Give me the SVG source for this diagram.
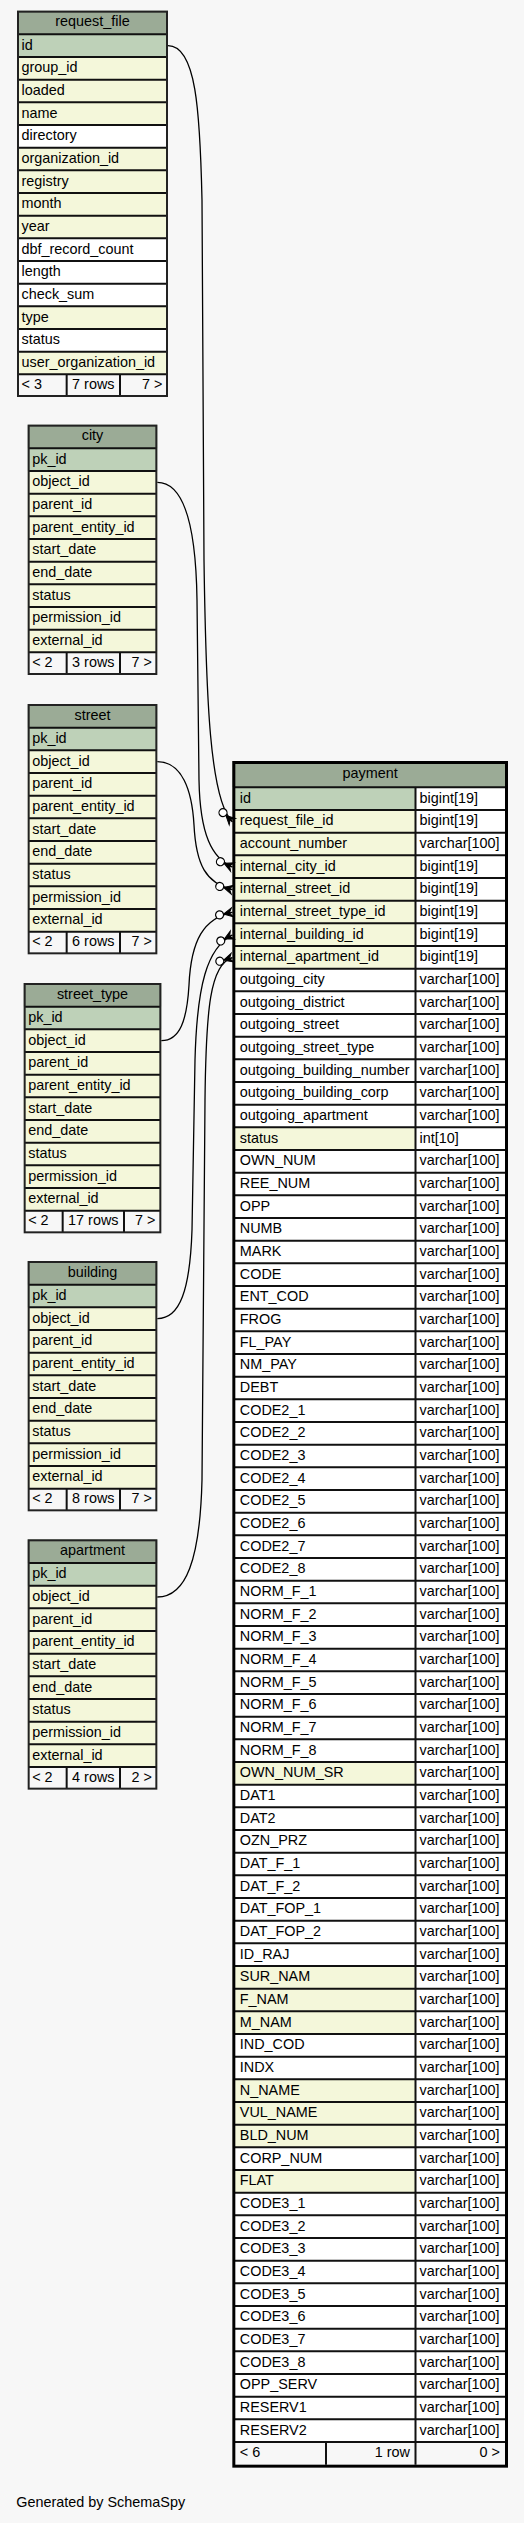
<svg xmlns="http://www.w3.org/2000/svg" width="524" height="2523" viewBox="0 0 524 2523">
<style>
.w{fill:#ffffff}
.hd{fill:#9bab96}
.pk{fill:#bed1b8}
.fk{fill:#f4f7da}
.ft{fill:#f7f7f7}
.grid{fill:none;stroke:#111;stroke-width:2}
.frame{fill:none;stroke:#222;stroke-width:2}
.frame3{fill:none;stroke:#000;stroke-width:3}
text{font-family:"Liberation Sans",Arial,Helvetica,sans-serif;font-size:14.4px;fill:#000}
.c{text-anchor:middle}
.e{text-anchor:end}
.edge{fill:none;stroke:#000;stroke-width:1.3;marker-end:url(#crowodot)}
</style>
<defs>
<marker id="crowodot" markerUnits="userSpaceOnUse" orient="auto" refX="0" refY="0" markerWidth="1" markerHeight="1" overflow="visible">
<path d="M-9,0L0,-4.5L-3,0L0,4.5Z M-9,0H0" fill="#000" stroke="#000" stroke-width="1"/>
<circle cx="-13" cy="0" r="4" fill="#ffffff" stroke="#000" stroke-width="1.2"/>
</marker>
</defs>
<rect x="0" y="0" width="524" height="2523" fill="#f7f7f7"/>

<g id="request_file">
<rect class="w" x="17" y="10.67" width="151" height="386.33"/>
<rect class="hd" x="17" y="10.67" width="151" height="23.67"/>
<rect class="pk" x="17" y="34.33" width="151" height="22.67"/>
<rect class="fk" x="17" y="57" width="151" height="68"/>
<rect class="fk" x="17" y="147.67" width="151" height="90.67"/>
<rect class="fk" x="17" y="306.33" width="151" height="22.67"/>
<rect class="fk" x="17" y="351.67" width="151" height="22.67"/>
<rect class="ft" x="17" y="374.33" width="151" height="22.67"/>
<path class="grid" d="M18,34.33H167m-149,22.667H167m-149,22.667H167m-149,22.667H167m-149,22.667H167m-149,22.667H167m-149,22.667H167m-149,22.667H167m-149,22.667H167m-149,22.667H167m-149,22.667H167m-149,22.667H167m-149,22.667H167m-149,22.667H167m-149,22.667H167m-149,22.667H167 M66.67,374.33V396 M120,374.33V396"/>
<rect class="frame" x="18" y="11.67" width="149" height="384.33"/>
<text class="c" x="92.5" y="26.2">request_file</text>
<text x="21.5" y="49.6">id</text>
<text x="21.5" y="72.3">group_id</text>
<text x="21.5" y="95">loaded</text>
<text x="21.5" y="117.6">name</text>
<text x="21.5" y="140.3">directory</text>
<text x="21.5" y="163">organization_id</text>
<text x="21.5" y="185.6">registry</text>
<text x="21.5" y="208.3">month</text>
<text x="21.5" y="231">year</text>
<text x="21.5" y="253.6">dbf_record_count</text>
<text x="21.5" y="276.3">length</text>
<text x="21.5" y="299">check_sum</text>
<text x="21.5" y="321.6">type</text>
<text x="21.5" y="344.3">status</text>
<text x="21.5" y="367">user_organization_id</text>
<text x="21.5" y="388.8">&lt; 3</text>
<text class="e" x="114.5" y="388.8">7 rows</text>
<text class="e" x="162.3" y="388.8">7 &gt;</text>
</g>

<g id="city">
<rect class="w" x="27.67" y="424.67" width="129.67" height="250.33"/>
<rect class="hd" x="27.67" y="424.67" width="129.67" height="23.67"/>
<rect class="pk" x="27.67" y="448.33" width="129.67" height="22.67"/>
<rect class="fk" x="27.67" y="471" width="129.67" height="181.33"/>
<rect class="ft" x="27.67" y="652.33" width="129.67" height="22.67"/>
<path class="grid" d="M28.67,448.33H156.33m-127.67,22.667H156.33m-127.67,22.667H156.33m-127.67,22.667H156.33m-127.67,22.667H156.33m-127.67,22.667H156.33m-127.67,22.667H156.33m-127.67,22.667H156.33m-127.67,22.667H156.33m-127.67,22.667H156.33 M66.67,652.33V674 M120,652.33V674"/>
<rect class="frame" x="28.67" y="425.67" width="127.67" height="248.33"/>
<text class="c" x="92.5" y="440.2">city</text>
<text x="32.2" y="463.6">pk_id</text>
<text x="32.2" y="486.3">object_id</text>
<text x="32.2" y="509">parent_id</text>
<text x="32.2" y="531.6">parent_entity_id</text>
<text x="32.2" y="554.3">start_date</text>
<text x="32.2" y="577">end_date</text>
<text x="32.2" y="599.6">status</text>
<text x="32.2" y="622.3">permission_id</text>
<text x="32.2" y="645">external_id</text>
<text x="32.2" y="666.8">&lt; 2</text>
<text class="e" x="114.5" y="666.8">3 rows</text>
<text class="e" x="151.8" y="666.8">7 &gt;</text>
</g>

<g id="street">
<rect class="w" x="27.67" y="704" width="129.67" height="250.33"/>
<rect class="hd" x="27.67" y="704" width="129.67" height="23.67"/>
<rect class="pk" x="27.67" y="727.67" width="129.67" height="22.67"/>
<rect class="fk" x="27.67" y="750.33" width="129.67" height="181.33"/>
<rect class="ft" x="27.67" y="931.67" width="129.67" height="22.67"/>
<path class="grid" d="M28.67,727.67H156.33m-127.67,22.667H156.33m-127.67,22.667H156.33m-127.67,22.667H156.33m-127.67,22.667H156.33m-127.67,22.667H156.33m-127.67,22.667H156.33m-127.67,22.667H156.33m-127.67,22.667H156.33m-127.67,22.667H156.33 M66.67,931.67V953.3 M120,931.67V953.3"/>
<rect class="frame" x="28.67" y="705" width="127.67" height="248.33"/>
<text class="c" x="92.5" y="719.5">street</text>
<text x="32.2" y="743">pk_id</text>
<text x="32.2" y="765.6">object_id</text>
<text x="32.2" y="788.3">parent_id</text>
<text x="32.2" y="811">parent_entity_id</text>
<text x="32.2" y="833.6">start_date</text>
<text x="32.2" y="856.3">end_date</text>
<text x="32.2" y="879">status</text>
<text x="32.2" y="901.6">permission_id</text>
<text x="32.2" y="924.3">external_id</text>
<text x="32.2" y="946.2">&lt; 2</text>
<text class="e" x="114.5" y="946.2">6 rows</text>
<text class="e" x="151.8" y="946.2">7 &gt;</text>
</g>

<g id="street_type">
<rect class="w" x="23.67" y="983" width="137.67" height="250.33"/>
<rect class="hd" x="23.67" y="983" width="137.67" height="23.67"/>
<rect class="pk" x="23.67" y="1006.67" width="137.67" height="22.67"/>
<rect class="fk" x="23.67" y="1029.33" width="137.67" height="181.33"/>
<rect class="ft" x="23.67" y="1210.67" width="137.67" height="22.67"/>
<path class="grid" d="M24.67,1006.67H160.33m-135.67,22.667H160.33m-135.67,22.667H160.33m-135.67,22.667H160.33m-135.67,22.667H160.33m-135.67,22.667H160.33m-135.67,22.667H160.33m-135.67,22.667H160.33m-135.67,22.667H160.33m-135.67,22.667H160.33 M62.67,1210.67V1232.3 M124,1210.67V1232.3"/>
<rect class="frame" x="24.67" y="984" width="135.67" height="248.33"/>
<text class="c" x="92.5" y="998.5">street_type</text>
<text x="28.2" y="1022">pk_id</text>
<text x="28.2" y="1044.6">object_id</text>
<text x="28.2" y="1067.3">parent_id</text>
<text x="28.2" y="1090">parent_entity_id</text>
<text x="28.2" y="1112.6">start_date</text>
<text x="28.2" y="1135.3">end_date</text>
<text x="28.2" y="1158">status</text>
<text x="28.2" y="1180.6">permission_id</text>
<text x="28.2" y="1203.3">external_id</text>
<text x="28.2" y="1225.2">&lt; 2</text>
<text class="e" x="118.5" y="1225.2">17 rows</text>
<text class="e" x="155.5" y="1225.2">7 &gt;</text>
</g>

<g id="building">
<rect class="w" x="27.67" y="1261" width="129.67" height="250.33"/>
<rect class="hd" x="27.67" y="1261" width="129.67" height="23.67"/>
<rect class="pk" x="27.67" y="1284.67" width="129.67" height="22.67"/>
<rect class="fk" x="27.67" y="1307.33" width="129.67" height="181.33"/>
<rect class="ft" x="27.67" y="1488.67" width="129.67" height="22.67"/>
<path class="grid" d="M28.67,1284.67H156.33m-127.67,22.667H156.33m-127.67,22.667H156.33m-127.67,22.667H156.33m-127.67,22.667H156.33m-127.67,22.667H156.33m-127.67,22.667H156.33m-127.67,22.667H156.33m-127.67,22.667H156.33m-127.67,22.667H156.33 M66.67,1488.67V1510.3 M120,1488.67V1510.3"/>
<rect class="frame" x="28.67" y="1262" width="127.67" height="248.33"/>
<text class="c" x="92.5" y="1276.5">building</text>
<text x="32.2" y="1300">pk_id</text>
<text x="32.2" y="1322.6">object_id</text>
<text x="32.2" y="1345.3">parent_id</text>
<text x="32.2" y="1368">parent_entity_id</text>
<text x="32.2" y="1390.6">start_date</text>
<text x="32.2" y="1413.3">end_date</text>
<text x="32.2" y="1436">status</text>
<text x="32.2" y="1458.6">permission_id</text>
<text x="32.2" y="1481.3">external_id</text>
<text x="32.2" y="1503.2">&lt; 2</text>
<text class="e" x="114.5" y="1503.2">8 rows</text>
<text class="e" x="151.8" y="1503.2">7 &gt;</text>
</g>

<g id="apartment">
<rect class="w" x="27.67" y="1539.33" width="129.67" height="250.33"/>
<rect class="hd" x="27.67" y="1539.33" width="129.67" height="23.67"/>
<rect class="pk" x="27.67" y="1563" width="129.67" height="22.67"/>
<rect class="fk" x="27.67" y="1585.67" width="129.67" height="181.33"/>
<rect class="ft" x="27.67" y="1767" width="129.67" height="22.67"/>
<path class="grid" d="M28.67,1563H156.33m-127.67,22.667H156.33m-127.67,22.667H156.33m-127.67,22.667H156.33m-127.67,22.667H156.33m-127.67,22.667H156.33m-127.67,22.667H156.33m-127.67,22.667H156.33m-127.67,22.667H156.33m-127.67,22.667H156.33 M66.67,1767V1788.7 M120,1767V1788.7"/>
<rect class="frame" x="28.67" y="1540.33" width="127.67" height="248.33"/>
<text class="c" x="92.5" y="1554.8">apartment</text>
<text x="32.2" y="1578.3">pk_id</text>
<text x="32.2" y="1601">object_id</text>
<text x="32.2" y="1623.6">parent_id</text>
<text x="32.2" y="1646.3">parent_entity_id</text>
<text x="32.2" y="1669">start_date</text>
<text x="32.2" y="1691.6">end_date</text>
<text x="32.2" y="1714.3">status</text>
<text x="32.2" y="1737">permission_id</text>
<text x="32.2" y="1759.6">external_id</text>
<text x="32.2" y="1781.5">&lt; 2</text>
<text class="e" x="114.5" y="1781.5">4 rows</text>
<text class="e" x="151.8" y="1781.5">2 &gt;</text>
</g>

<g id="payment">
<rect class="w" x="232.33" y="761" width="275.67" height="1706.67"/>
<rect class="hd" x="232.33" y="761" width="275.67" height="26.33"/>
<text class="c" x="370.2" y="778.3">payment</text>
<g transform="translate(0,787.33)">
<rect class="pk" x="232.33" y="0" width="183.17" height="22.67"/>
<rect class="fk" x="232.33" y="22.67" width="183.17" height="158.67"/>
<rect class="fk" x="232.33" y="340" width="183.17" height="22.67"/>
<rect class="fk" x="232.33" y="974.67" width="183.17" height="22.67"/>
<rect class="fk" x="232.33" y="1178.67" width="183.17" height="68"/>
<rect class="fk" x="232.33" y="1292" width="183.17" height="68"/>
<rect class="fk" x="232.33" y="1382.67" width="183.17" height="22.67"/>
<rect class="ft" x="232.33" y="1654.67" width="275.67" height="22.67"/>
<path class="grid" d="M234.33,0H506m-271.67,22.667H506m-271.67,22.667H506m-271.67,22.667H506m-271.67,22.667H506m-271.67,22.667H506m-271.67,22.667H506m-271.67,22.667H506m-271.67,22.667H506m-271.67,22.667H506m-271.67,22.667H506m-271.67,22.667H506m-271.67,22.667H506m-271.67,22.667H506m-271.67,22.667H506m-271.67,22.667H506m-271.67,22.667H506m-271.67,22.667H506m-271.67,22.667H506m-271.67,22.667H506m-271.67,22.667H506m-271.67,22.667H506m-271.67,22.667H506m-271.67,22.667H506m-271.67,22.667H506m-271.67,22.667H506m-271.67,22.667H506m-271.67,22.667H506m-271.67,22.667H506m-271.67,22.667H506m-271.67,22.667H506m-271.67,22.667H506m-271.67,22.667H506m-271.67,22.667H506m-271.67,22.667H506m-271.67,22.667H506m-271.67,22.667H506m-271.67,22.667H506m-271.67,22.667H506m-271.67,22.667H506m-271.67,22.667H506m-271.67,22.667H506m-271.67,22.667H506m-271.67,22.667H506m-271.67,22.667H506m-271.67,22.667H506m-271.67,22.667H506m-271.67,22.667H506m-271.67,22.667H506m-271.67,22.667H506m-271.67,22.667H506m-271.67,22.667H506m-271.67,22.667H506m-271.67,22.667H506m-271.67,22.667H506m-271.67,22.667H506m-271.67,22.667H506m-271.67,22.667H506m-271.67,22.667H506m-271.67,22.667H506m-271.67,22.667H506m-271.67,22.667H506m-271.67,22.667H506m-271.67,22.667H506m-271.67,22.667H506m-271.67,22.667H506m-271.67,22.667H506m-271.67,22.667H506m-271.67,22.667H506m-271.67,22.667H506m-271.67,22.667H506m-271.67,22.667H506m-271.67,22.667H506m-271.67,22.667H506 M415.5,0V1677.33 M326,1654.67V1677.33"/>
<text y="15.5"><tspan x="239.8">id</tspan><tspan x="419.5">bigint[19]</tspan></text>
<text y="38.17"><tspan x="239.8">request_file_id</tspan><tspan x="419.5">bigint[19]</tspan></text>
<text y="60.83"><tspan x="239.8">account_number</tspan><tspan x="419.5">varchar[100]</tspan></text>
<text y="83.5"><tspan x="239.8">internal_city_id</tspan><tspan x="419.5">bigint[19]</tspan></text>
<text y="106.17"><tspan x="239.8">internal_street_id</tspan><tspan x="419.5">bigint[19]</tspan></text>
<text y="128.83"><tspan x="239.8">internal_street_type_id</tspan><tspan x="419.5">bigint[19]</tspan></text>
<text y="151.5"><tspan x="239.8">internal_building_id</tspan><tspan x="419.5">bigint[19]</tspan></text>
<text y="174.17"><tspan x="239.8">internal_apartment_id</tspan><tspan x="419.5">bigint[19]</tspan></text>
<text y="196.83"><tspan x="239.8">outgoing_city</tspan><tspan x="419.5">varchar[100]</tspan></text>
<text y="219.5"><tspan x="239.8">outgoing_district</tspan><tspan x="419.5">varchar[100]</tspan></text>
<text y="242.17"><tspan x="239.8">outgoing_street</tspan><tspan x="419.5">varchar[100]</tspan></text>
<text y="264.83"><tspan x="239.8">outgoing_street_type</tspan><tspan x="419.5">varchar[100]</tspan></text>
<text y="287.5"><tspan x="239.8">outgoing_building_number</tspan><tspan x="419.5">varchar[100]</tspan></text>
<text y="310.17"><tspan x="239.8">outgoing_building_corp</tspan><tspan x="419.5">varchar[100]</tspan></text>
<text y="332.83"><tspan x="239.8">outgoing_apartment</tspan><tspan x="419.5">varchar[100]</tspan></text>
<text y="355.5"><tspan x="239.8">status</tspan><tspan x="419.5">int[10]</tspan></text>
<text y="378.17"><tspan x="239.8">OWN_NUM</tspan><tspan x="419.5">varchar[100]</tspan></text>
<text y="400.83"><tspan x="239.8">REE_NUM</tspan><tspan x="419.5">varchar[100]</tspan></text>
<text y="423.5"><tspan x="239.8">OPP</tspan><tspan x="419.5">varchar[100]</tspan></text>
<text y="446.17"><tspan x="239.8">NUMB</tspan><tspan x="419.5">varchar[100]</tspan></text>
<text y="468.83"><tspan x="239.8">MARK</tspan><tspan x="419.5">varchar[100]</tspan></text>
<text y="491.5"><tspan x="239.8">CODE</tspan><tspan x="419.5">varchar[100]</tspan></text>
<text y="514.17"><tspan x="239.8">ENT_COD</tspan><tspan x="419.5">varchar[100]</tspan></text>
<text y="536.83"><tspan x="239.8">FROG</tspan><tspan x="419.5">varchar[100]</tspan></text>
<text y="559.5"><tspan x="239.8">FL_PAY</tspan><tspan x="419.5">varchar[100]</tspan></text>
<text y="582.17"><tspan x="239.8">NM_PAY</tspan><tspan x="419.5">varchar[100]</tspan></text>
<text y="604.83"><tspan x="239.8">DEBT</tspan><tspan x="419.5">varchar[100]</tspan></text>
<text y="627.5"><tspan x="239.8">CODE2_1</tspan><tspan x="419.5">varchar[100]</tspan></text>
<text y="650.17"><tspan x="239.8">CODE2_2</tspan><tspan x="419.5">varchar[100]</tspan></text>
<text y="672.83"><tspan x="239.8">CODE2_3</tspan><tspan x="419.5">varchar[100]</tspan></text>
<text y="695.5"><tspan x="239.8">CODE2_4</tspan><tspan x="419.5">varchar[100]</tspan></text>
<text y="718.17"><tspan x="239.8">CODE2_5</tspan><tspan x="419.5">varchar[100]</tspan></text>
<text y="740.83"><tspan x="239.8">CODE2_6</tspan><tspan x="419.5">varchar[100]</tspan></text>
<text y="763.5"><tspan x="239.8">CODE2_7</tspan><tspan x="419.5">varchar[100]</tspan></text>
<text y="786.17"><tspan x="239.8">CODE2_8</tspan><tspan x="419.5">varchar[100]</tspan></text>
<text y="808.83"><tspan x="239.8">NORM_F_1</tspan><tspan x="419.5">varchar[100]</tspan></text>
<text y="831.5"><tspan x="239.8">NORM_F_2</tspan><tspan x="419.5">varchar[100]</tspan></text>
<text y="854.17"><tspan x="239.8">NORM_F_3</tspan><tspan x="419.5">varchar[100]</tspan></text>
<text y="876.83"><tspan x="239.8">NORM_F_4</tspan><tspan x="419.5">varchar[100]</tspan></text>
<text y="899.5"><tspan x="239.8">NORM_F_5</tspan><tspan x="419.5">varchar[100]</tspan></text>
<text y="922.17"><tspan x="239.8">NORM_F_6</tspan><tspan x="419.5">varchar[100]</tspan></text>
<text y="944.83"><tspan x="239.8">NORM_F_7</tspan><tspan x="419.5">varchar[100]</tspan></text>
<text y="967.5"><tspan x="239.8">NORM_F_8</tspan><tspan x="419.5">varchar[100]</tspan></text>
<text y="990.17"><tspan x="239.8">OWN_NUM_SR</tspan><tspan x="419.5">varchar[100]</tspan></text>
<text y="1012.83"><tspan x="239.8">DAT1</tspan><tspan x="419.5">varchar[100]</tspan></text>
<text y="1035.5"><tspan x="239.8">DAT2</tspan><tspan x="419.5">varchar[100]</tspan></text>
<text y="1058.17"><tspan x="239.8">OZN_PRZ</tspan><tspan x="419.5">varchar[100]</tspan></text>
<text y="1080.83"><tspan x="239.8">DAT_F_1</tspan><tspan x="419.5">varchar[100]</tspan></text>
<text y="1103.5"><tspan x="239.8">DAT_F_2</tspan><tspan x="419.5">varchar[100]</tspan></text>
<text y="1126.17"><tspan x="239.8">DAT_FOP_1</tspan><tspan x="419.5">varchar[100]</tspan></text>
<text y="1148.83"><tspan x="239.8">DAT_FOP_2</tspan><tspan x="419.5">varchar[100]</tspan></text>
<text y="1171.5"><tspan x="239.8">ID_RAJ</tspan><tspan x="419.5">varchar[100]</tspan></text>
<text y="1194.17"><tspan x="239.8">SUR_NAM</tspan><tspan x="419.5">varchar[100]</tspan></text>
<text y="1216.83"><tspan x="239.8">F_NAM</tspan><tspan x="419.5">varchar[100]</tspan></text>
<text y="1239.5"><tspan x="239.8">M_NAM</tspan><tspan x="419.5">varchar[100]</tspan></text>
<text y="1262.17"><tspan x="239.8">IND_COD</tspan><tspan x="419.5">varchar[100]</tspan></text>
<text y="1284.83"><tspan x="239.8">INDX</tspan><tspan x="419.5">varchar[100]</tspan></text>
<text y="1307.5"><tspan x="239.8">N_NAME</tspan><tspan x="419.5">varchar[100]</tspan></text>
<text y="1330.17"><tspan x="239.8">VUL_NAME</tspan><tspan x="419.5">varchar[100]</tspan></text>
<text y="1352.83"><tspan x="239.8">BLD_NUM</tspan><tspan x="419.5">varchar[100]</tspan></text>
<text y="1375.5"><tspan x="239.8">CORP_NUM</tspan><tspan x="419.5">varchar[100]</tspan></text>
<text y="1398.17"><tspan x="239.8">FLAT</tspan><tspan x="419.5">varchar[100]</tspan></text>
<text y="1420.83"><tspan x="239.8">CODE3_1</tspan><tspan x="419.5">varchar[100]</tspan></text>
<text y="1443.5"><tspan x="239.8">CODE3_2</tspan><tspan x="419.5">varchar[100]</tspan></text>
<text y="1466.17"><tspan x="239.8">CODE3_3</tspan><tspan x="419.5">varchar[100]</tspan></text>
<text y="1488.83"><tspan x="239.8">CODE3_4</tspan><tspan x="419.5">varchar[100]</tspan></text>
<text y="1511.5"><tspan x="239.8">CODE3_5</tspan><tspan x="419.5">varchar[100]</tspan></text>
<text y="1534.17"><tspan x="239.8">CODE3_6</tspan><tspan x="419.5">varchar[100]</tspan></text>
<text y="1556.83"><tspan x="239.8">CODE3_7</tspan><tspan x="419.5">varchar[100]</tspan></text>
<text y="1579.5"><tspan x="239.8">CODE3_8</tspan><tspan x="419.5">varchar[100]</tspan></text>
<text y="1602.17"><tspan x="239.8">OPP_SERV</tspan><tspan x="419.5">varchar[100]</tspan></text>
<text y="1624.83"><tspan x="239.8">RESERV1</tspan><tspan x="419.5">varchar[100]</tspan></text>
<text y="1647.5"><tspan x="239.8">RESERV2</tspan><tspan x="419.5">varchar[100]</tspan></text>
<text x="239.8" y="1669.8">&lt; 6</text>
<text class="e" x="410" y="1669.8">1 row</text>
<text class="e" x="500" y="1669.8">0 &gt;</text>
</g>
<rect class="frame3" x="233.83" y="762.5" width="272.67" height="1703.67"/>
</g>

<g id="connectors">
<path class="edge" d="M168,45.67 C196,45.67 200,110 202,200 L204,560 C206,700 210,800 232.33,821.67"/>
<path class="edge" d="M157.33,482.33 C185,482.33 196,530 197,600 L199,780 C200,835 212,858 232.33,867"/>
<path class="edge" d="M157.33,761.67 C182,761.67 192,790 194,825 C196,865 206,883 232.33,889.67"/>
<path class="edge" d="M161.33,1040.67 C180,1040.67 187,1020 189,985 C191,940 204,918 232.33,912.33"/>
<path class="edge" d="M157.33,1318.67 C180,1318.67 190,1290 192,1230 L195,1060 C197,985 207,948 232.33,935"/>
<path class="edge" d="M157.33,1597 C186,1597 200,1560 202,1480 L205,1100 C206,1010 210,964 232.33,957.67"/>
</g>

<text x="16.3" y="2507">Generated by SchemaSpy</text>
</svg>
